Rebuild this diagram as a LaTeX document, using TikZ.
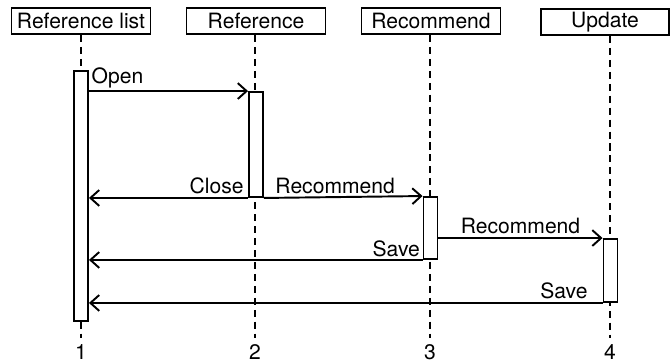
\documentclass[tikz,border=0pt]{standalone}
\usepackage{fontspec}
\setmainfont{TeX Gyre Heros}
\usetikzlibrary{arrows.meta}

\begin{document}
\begin{tikzpicture}[x=0.02cm, y=-0.02cm, font=\fontsize{12}{14}\selectfont,
  head/.style={draw, line width=1.1pt, minimum width=2.78cm, minimum height=0.52cm, inner sep=0pt},
  act/.style={draw, fill=white, line width=1.1pt, minimum width=0.28cm, inner sep=0pt},
  life/.style={line width=1.1pt, dash pattern=on 4pt off 2.8pt},
  msg/.style={line width=1.1pt, -{Straight Barb[length=5pt,width=9pt]}}]
\useasboundingbox (0,0) rectangle (671,362);
% heads
\node[head] (h1) at (81,21) {Reference list};
\node[head] (h2) at (256,21) {Reference};
\node[head] (h3) at (431,21) {Recommend};
\node[head, minimum width=2.56cm] (h4) at (605,22) {Update};
% numbers
\node (n1) at (81,352) {1};
\node (n2) at (255,352) {2};
\node (n3) at (430,352) {3};
\node (n4) at (610,352) {4};
% lifelines
\draw[life] (h1.south -| n1) -- (n1.north);
\draw[life] (h2.south -| n2) -- (n2.north);
\draw[life] (h3.south -| n3) -- (n3.north);
\draw[life] (h4.south -| n4) -- (n4.north);
% activations
\node[act, minimum height=5cm] (a1) at (81,196) {};
\node[act, minimum height=2.1cm] (a2) at (256,144.5) {};
\node[act, minimum height=1.24cm] (a3) at (430.5,228) {};
\node[act, minimum height=1.26cm] (a4) at (610.5,270.5) {};
% messages
\draw[msg] (a1.east |- a2.north) -- node[pos=0, anchor=south west, inner sep=1pt] {Open} (a2.north west);
\draw[msg] (a2.south west) -- node[pos=0, anchor=south east, inner sep=2pt] {Close} (a1.east |- a2.south);
\draw[msg] (a2.south east) -- node[pos=0, anchor=south west, inner sep=2pt, xshift=4pt] {Recommend} (a3.north west);
\draw[msg] (a3.east |- a4.north) -- node[midway, above, inner sep=2pt] {Recommend} (a4.north west);
\draw[msg] (a3.south west) -- node[pos=0, anchor=south east, inner sep=1pt] {Save} (a1.east |- a3.south);
\draw[msg] (a4.south west) -- node[pos=0, anchor=south east, inner sep=2pt, xshift=-6pt] {Save} (a1.east |- a4.south);
\end{tikzpicture}
\end{document}
